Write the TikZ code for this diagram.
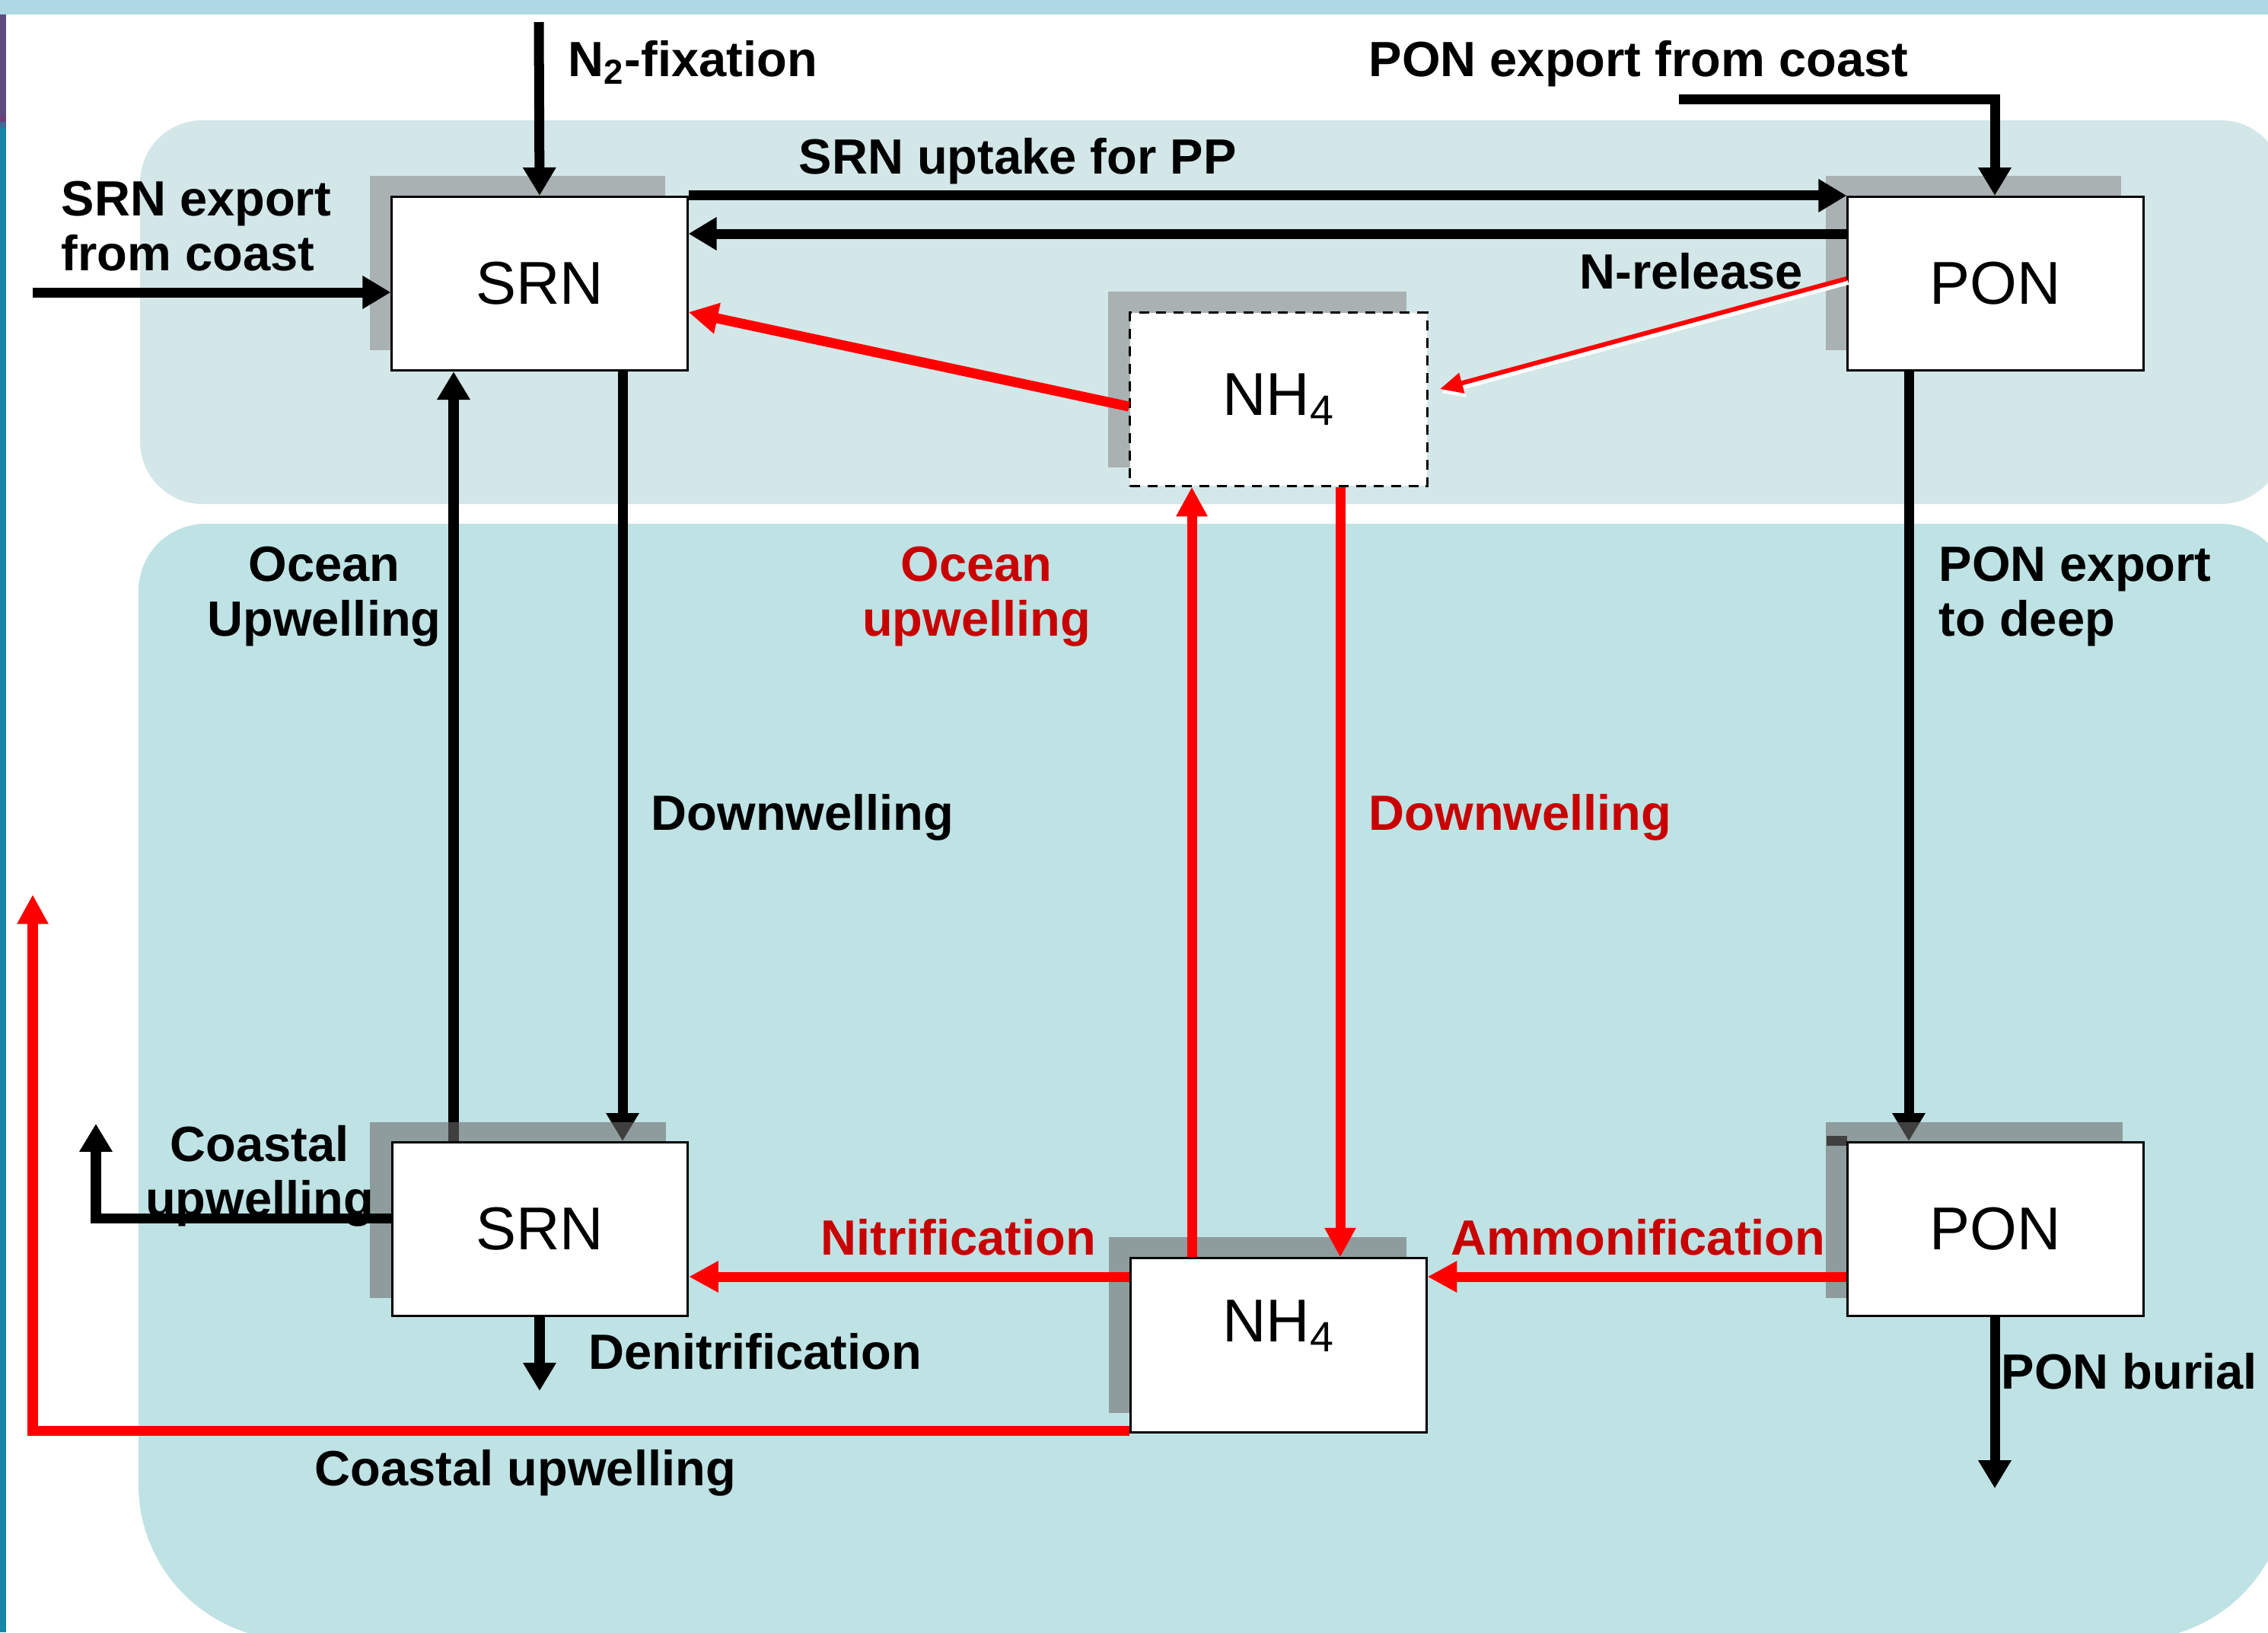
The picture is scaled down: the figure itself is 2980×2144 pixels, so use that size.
\documentclass[tikz,border=0pt]{standalone}
\usepackage{fontspec}
\setmainfont{Liberation Sans}
\usetikzlibrary{arrows.meta}
\definecolor{topband}{RGB}{173,216,228}
\definecolor{stripPurple}{RGB}{94,74,128}
\definecolor{stripPink}{RGB}{110,63,120}
\definecolor{stripBlue}{RGB}{63,108,150}
\definecolor{stripTeal}{RGB}{24,134,166}
\definecolor{upperReg}{RGB}{211,230,232}
\definecolor{lowerReg}{RGB}{191,226,228}
\definecolor{upperShadow}{RGB}{170,177,178}
\definecolor{lowerShadow}{RGB}{108,108,108}
\definecolor{labelRed}{RGB}{200,0,0}
\definecolor{arrowRed}{RGB}{255,0,0}
\definecolor{darkMark}{RGB}{64,64,64}
\newcommand\lblfont{\bfseries\fontsize{18.5pt}{20.5pt}\selectfont}
\newcommand\boxfont{\fontsize{22.6pt}{25pt}\selectfont}
\pgfdeclarelayer{back}
\pgfdeclarelayer{dimarrows}
\pgfdeclarelayer{lowshadow}
\pgfsetlayers{back,dimarrows,lowshadow,main}
\begin{document}
\begin{tikzpicture}[x=0.01cm,y=-0.01cm,
  box/.style={draw=black, line width=0.85pt, fill=white, minimum width=3.88cm,
    minimum height=2.28cm, inner sep=0pt, font=\boxfont},
  dashedbox/.style={box, dash pattern=on 3.7pt off 2.8pt},
  lbl/.style={font=\lblfont, inner sep=0pt, text=black},
  redlbl/.style={lbl, text=labelRed},
  blkarrow/.style={draw=black, line width=3.7pt, line join=miter,
    -{Triangle[length=10.5pt,width=11.7pt]}},
  redarrow/.style={draw=arrowRed, line width=3.7pt, line join=miter,
    -{Triangle[length=11pt,width=11pt]}},
  thinred/.style={draw=arrowRed, line width=1.7pt,
    -{Triangle[length=8.5pt,width=7.5pt]}},
  thinwhite/.style={draw=white, line width=1.7pt,
    -{Triangle[length=8.5pt,width=7.5pt]}},
  upshadow/.style={fill=upperShadow},
  lowshadowstyle/.style={fill=lowerShadow, fill opacity=0.59}
]
\useasboundingbox (0,0) rectangle (2980,2144);

% ---------- background ----------
\begin{pgfonlayer}{back}
  \fill[white] (0,0) rectangle (2980,2144);
  \fill[topband] (0,0) rectangle (2980,19);
  \fill[stripPurple] (0,19) rectangle (8,152);
  \fill[stripPink] (0,152) rectangle (8,160);
  \fill[stripBlue] (0,160) rectangle (8,168);
  \fill[stripTeal] (0,168) rectangle (8,2144);
  \fill[upperReg, rounded corners=0.82cm] (184,158) rectangle (3000,662);
  \fill[lowerReg, rounded corners=0.88cm] (182,1500) -- (182,688) -- (3006,688)
     -- (3006,1500) [rounded corners=2.04cm] -- (3006,2154) -- (182,2154) -- cycle;
  % upper shadows
  \fill[upshadow] (486,231) rectangle (874,460);
  \fill[upshadow] (2399,231) rectangle (2787,460);
  \fill[upshadow] (1456,383) rectangle (1848,614);
\end{pgfonlayer}

% ---------- boxes ----------
\node[box] (srnT) at (709,372.5) {SRN};
\node[box] (ponT) at (2622,372.5) {PON};
\node[dashedbox, minimum width=3.9cm, minimum height=2.27cm] (nhT) at (1680,524.5) {NH\textsubscript{4}};
\node[box] (srnB) at (709.5,1614.5) {SRN};
\node[box] (nhB) at (1680,1767) {\raisebox{0.05cm}[0pt][0pt]{NH\textsubscript{4}}};
\node[box] (ponB) at (2622,1614.5) {PON};

% ---------- lower shadows (drawn over the black vertical arrows) ----------
\begin{pgfonlayer}{lowshadow}
  \fill[lowshadowstyle] (486,1474) rectangle (875,1705);
  \fill[lowshadowstyle] (1457,1625) rectangle (1848,1856);
  \fill[lowshadowstyle] (2399,1474) rectangle (2789,1705);
  \fill[darkMark] (2400,1492) rectangle (2427,1505);
\end{pgfonlayer}

\begin{pgfonlayer}{dimarrows}
  \draw[blkarrow] (srnB.north -| 596,0) -- (srnT.south -| 596,0);
  \draw[blkarrow] (srnT.south -| 818,0) -- (srnB.north -| 818,0);
  \draw[blkarrow] (ponT.south -| 2508,0) -- (ponB.north -| 2508,0);
\end{pgfonlayer}

% ---------- coordinates for free ends ----------
\coordinate (n2top) at (708,29);
\coordinate (srnExp) at (43,384);
\coordinate (ponCoast) at (2206,130);
\coordinate (nhTin) at (1892,511);
\coordinate (redCUtip) at (43,1175);
\coordinate (blkCUtip) at (126,1476);
\coordinate (denitEnd) at (709,1827);
\coordinate (burialEnd) at (2621,1955);

% ---------- black arrows ----------
\draw[blkarrow] (n2top) -- (srnT.north);
\draw[blkarrow] (srnExp) -- (srnT.west |- srnExp);
\draw[blkarrow] (srnT.north east) -- (ponT.north west);
\draw[blkarrow] (ponT.west |- 0,307) -- (srnT.east |- 0,307);
\draw[blkarrow] (ponCoast) -| (ponT.north -| 2621,0);
\draw[blkarrow] (srnB.south -| denitEnd) -- (denitEnd);
\draw[blkarrow] (ponB.south -| burialEnd) -- (burialEnd);

% ---------- red arrows ----------
\draw[thinwhite] ([shift={(2,5)}]ponT.west |- 0,366) -- ([shift={(2,5)}]nhTin);
\draw[thinred] (ponT.west |- 0,366) -- (nhTin);
\draw[redarrow] (nhT.west |- 0,534) -- (srnT.east |- 0,410);
\draw[redarrow] (nhB.north -| 1566,0) -- (nhT.south -| 1566,0);
\draw[redarrow] (nhT.south -| 1761,0) -- (nhB.north -| 1761,0);
\draw[redarrow] (nhB.west |- 0,1677) -- (srnB.east |- 0,1677);
\draw[redarrow] (ponB.west |- 0,1677) -- (nhB.east |- 0,1677);
\draw[redarrow] (nhB.west |- 0,1879) -| (redCUtip);

% ---------- labels ----------
\node[lbl, anchor=base west] (lN2) at (746,100) {N\textsubscript{2}-fixation};
\node[lbl, anchor=base west] (lPONc) at (1798,100) {PON export from coast};
\node[lbl, anchor=north west, align=left] (lSRNc) at (80,237) {SRN export\\from coast};
\node[lbl, anchor=base west] (lUp) at (1049,228) {SRN uptake for PP};
\node[lbl, anchor=base west] (lNrel) at (2075,379) {N-release};
\node[lbl, align=center, anchor=north] (lOUb) at (426,717) {Ocean\\Upwelling};
\node[redlbl, align=center, anchor=north] (lOUr) at (1283,717) {Ocean\\upwelling};
\node[lbl, align=left, anchor=north west] (lPONd) at (2547,717) {PON export\\to deep};
\node[lbl, anchor=base west] (lDWb) at (855,1090) {Downwelling};
\node[redlbl, anchor=base west] (lDWr) at (1798,1090) {Downwelling};
\node[redlbl, anchor=base west] (lNit) at (1078,1648) {Nitrification};
\node[redlbl, anchor=base west] (lAmm) at (1906,1648) {Ammonification};
\node[lbl, align=center, anchor=north] (lCUs) at (341,1478) {Coastal\\upwelling};
\node[lbl, anchor=base west] (lDen) at (773,1798) {Denitrification};
\node[lbl, anchor=base west] (lCUb) at (413,1951) {Coastal upwelling};
\node[lbl, anchor=base west] (lBur) at (2629,1824) {PON burial};

% black coastal upwelling arrow drawn over its label
\draw[blkarrow] (srnB.west |- 0,1600) -| (blkCUtip);
\end{tikzpicture}
\end{document}
